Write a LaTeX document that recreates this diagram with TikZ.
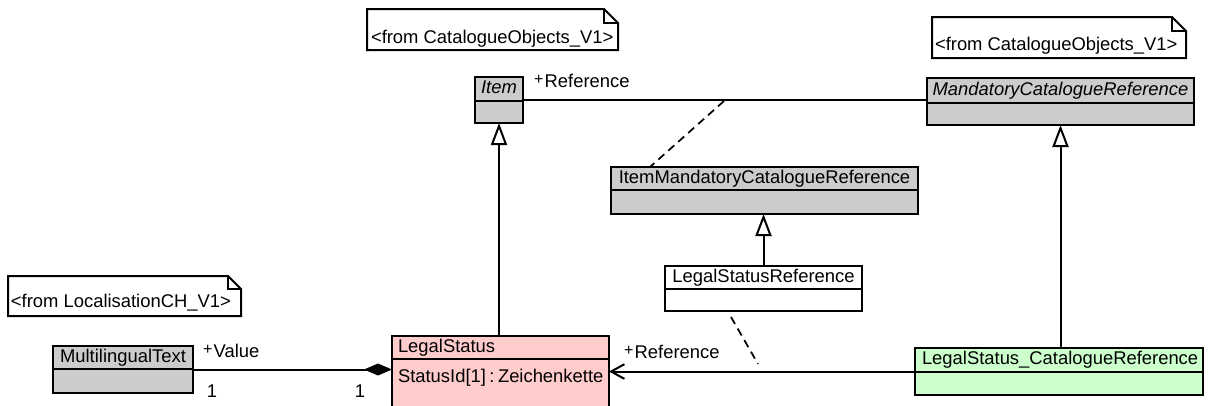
\documentclass[tikz,border=0pt]{standalone}
\usepackage{fontspec}
\setmainfont{Liberation Sans}
\usetikzlibrary{arrows.meta,fit}
\definecolor{gr}{RGB}{204,204,204}
\definecolor{pk}{RGB}{255,204,204}
\definecolor{gn}{RGB}{204,255,204}
\newcommand\plusmark{{\fontsize{12pt}{12pt}\selectfont\raisebox{2.6pt}{+}}\hspace{1pt}}
\begin{document}
\begin{tikzpicture}[x=0.75pt,y=-0.75pt,
  every node/.style={font=\fontsize{13.8pt}{16pt}\selectfont, inner sep=0pt, outer sep=0pt},
  cls/.style={draw, line width=1.5pt, inner sep=0pt, outer sep=0pt},
  lbl/.style={text height=0.716em, text depth=0pt},
  ln/.style={line width=1.5pt},
  dsh/.style={line width=1.3pt, dash pattern=on 6pt off 4pt},
  gen/.style={ln, -{Triangle[open, length=16.5pt, width=12pt, fill=white]}},
]
\useasboundingbox (0,0) rectangle (1209,405);
\clip (0,0) rectangle (1209,405);

% notes
\draw[ln, fill=white] (367,9) -- (604,9) -- (618,23) -- (618,50) -- (367,50) -- cycle;
\draw[ln] (604,9) -- (604,23) -- (618,23);
\node[lbl, anchor=west] (n1) at (371,39) {<from CatalogueObjects\_V1>};

\draw[ln, fill=white] (932,17) -- (1172,17) -- (1186,31) -- (1186,58) -- (932,58) -- cycle;
\draw[ln] (1172,17) -- (1172,31) -- (1186,31);
\node[lbl, anchor=west] (n2) at (935,46) {<from CatalogueObjects\_V1>};

\draw[ln, fill=white] (8,276) -- (228,276) -- (241,289) -- (241,316) -- (8,316) -- cycle;
\draw[ln] (228,276) -- (228,289) -- (241,289);
\node[lbl, anchor=west] (n3) at (11,303) {<from LocalisationCH\_V1>};

% classes
\node[cls, fill=gr, fit={(475,77)(523,123)}] (item) {};
\draw[ln] (475,101) -- (523,101);
\node[lbl] (itemT) at (499,89) {\itshape Item};

\node[cls, fill=gr, fit={(927,78)(1194,125)}] (mcr) {};
\draw[ln] (927,103) -- (1194,103);
\node[lbl] (mcrT) at (1060.5,90.5) {\itshape MandatoryCatalogueReference};

\node[cls, fill=gr, fit={(611,167)(918,214)}] (imcr) {};
\draw[ln] (611,190) -- (918,190);
\node[lbl] (imcrT) at (764.5,178.5) {ItemMandatoryCatalogueReference};

\node[cls, fill=white, fit={(665,266)(862,311)}] (lsr) {};
\draw[ln] (665,289) -- (862,289);
\node[lbl] (lsrT) at (763.5,277.5) {LegalStatusReference};

\node[cls, fill=gr, fit={(53,346)(193,393)}] (mt) {};
\draw[ln] (53,369) -- (193,369);
\node[lbl] (mtT) at (123,357.5) {MultilingualText};

\node[cls, fill=pk, fit={(392,336)(609,415)}] (ls) {};
\draw[ln] (392,359) -- (609,359);
\node[lbl, anchor=west] (lsT) at (398,347.5) {LegalStatus};
\node[lbl, anchor=west] (lsA) at (398,377.5) {StatusId[1]\hspace{2.6pt}:\hspace{2.6pt}Zeichenkette};

\node[cls, fill=gn, fit={(915,348)(1203,395)}] (lscr) {};
\draw[ln] (915,372) -- (1203,372);
\node[lbl, anchor=west] (lscrT) at (922,360) {LegalStatus\_CatalogueReference};

% connectors
\draw[ln] (item.east) -- (item.east -| mcr.west);
\node[lbl, anchor=west] (r1) at (534,83) {\plusmark Reference};
\coordinate (d1a) at (724,101);
\coordinate (d1b) at (650,167);
\draw[dsh] (d1a) -- (d1b);

\draw[gen] (item.south |- ls.north) -- (item.south);
\draw[gen] (mcr.south |- lscr.north) -- (mcr.south);
\draw[gen] (lsr.north) -- (lsr.north |- imcr.south);

\draw[ln, -{Straight Barb[length=10pt, width=11pt]}] (lscr.west) -- (lscr.west -| ls.east);
\node[lbl, anchor=west] (r2) at (624,354) {\plusmark Reference};
\coordinate (d2a) at (731,317);
\coordinate (d2b) at (758,364);
\draw[dsh] (d2a) -- (d2b);

\draw[ln, -{Diamond[length=21pt, width=9pt]}] (mt.east) -- (mt.east -| ls.west);
\node[lbl, anchor=west] (v1) at (203,353) {\plusmark Value};
\node[lbl] (m1) at (212,393) {1};
\node[lbl] (m2) at (360,393) {1};
\end{tikzpicture}
\end{document}
